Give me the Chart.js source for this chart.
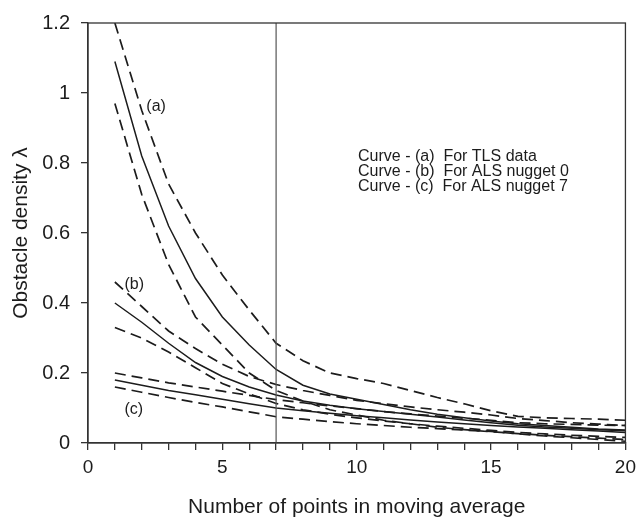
<!DOCTYPE html>
<html lang="en">
<head>
    <meta charset="UTF-8">
    <title>Obstacle density vs moving average</title>
    <style>
        html, body { margin: 0; padding: 0; background: #fff; }
        #chart-box { width: 642px; height: 517px; }
    </style>
</head>
<body>
    <div id="chart-box">
        <canvas id="density-chart"></canvas>
    </div>

    <script src="https://cdn.jsdelivr.net/npm/chart.js"></script>
    <script>
        // number of points in moving average
        const points = [1, 2, 3, 4, 5, 6, 7, 8, 9, 10, 11, 12, 13, 14, 15, 16, 17, 18, 19, 20];

        // curve (a) - TLS data
        const tlsMean  = [1.09, 0.82, 0.62, 0.47, 0.36, 0.28, 0.21, 0.165, 0.14, 0.125, 0.11, 0.095, 0.082, 0.072, 0.063, 0.055, 0.05, 0.045, 0.04, 0.037];
        const tlsUpper = [1.2, 0.95, 0.74, 0.6, 0.48, 0.38, 0.285, 0.235, 0.2, 0.184, 0.17, 0.15, 0.13, 0.112, 0.092, 0.076, 0.072, 0.07, 0.068, 0.065];
        const tlsLower = [0.97, 0.71, 0.51, 0.36, 0.28, 0.2, 0.15, 0.12, 0.095, 0.08, 0.065, 0.055, 0.045, 0.038, 0.032, 0.027, 0.022, 0.018, 0.014, 0.01];

        // curve (b) - ALS nugget 0
        const als0Mean  = [0.4, 0.345, 0.285, 0.23, 0.19, 0.16, 0.137, 0.12, 0.108, 0.098, 0.09, 0.082, 0.074, 0.066, 0.058, 0.051, 0.046, 0.042, 0.038, 0.035];
        const als0Upper = [0.46, 0.39, 0.32, 0.27, 0.225, 0.19, 0.167, 0.15, 0.136, 0.122, 0.112, 0.103, 0.095, 0.088, 0.08, 0.07, 0.064, 0.058, 0.054, 0.05];
        const als0Lower = [0.33, 0.3, 0.26, 0.215, 0.17, 0.14, 0.113, 0.095, 0.082, 0.072, 0.063, 0.055, 0.048, 0.042, 0.036, 0.03, 0.026, 0.022, 0.019, 0.016];

        // curve (c) - ALS nugget 7
        const als7Mean  = [0.18, 0.165, 0.15, 0.138, 0.125, 0.112, 0.1, 0.092, 0.085, 0.078, 0.072, 0.066, 0.06, 0.055, 0.05, 0.046, 0.042, 0.038, 0.034, 0.03];
        const als7Upper = [0.2, 0.186, 0.172, 0.16, 0.148, 0.136, 0.124, 0.115, 0.106, 0.098, 0.09, 0.083, 0.077, 0.071, 0.065, 0.058, 0.055, 0.053, 0.051, 0.05];
        const als7Lower = [0.16, 0.145, 0.13, 0.116, 0.103, 0.089, 0.075, 0.068, 0.061, 0.055, 0.05, 0.045, 0.041, 0.037, 0.033, 0.026, 0.02, 0.015, 0.01, 0.005];

        const markerX = 7;  // vertical reference line
        const xTicks = [0, 5, 10, 15, 20];
        const yTicks = [0, 0.2, 0.4, 0.6, 0.8, 1, 1.2];

        const curveLabels = [
            { text: "(a)", x: 2.17, y: 0.96 },
            { text: "(b)", x: 1.36, y: 0.452 },
            { text: "(c)", x: 1.36, y: 0.096 }
        ];
        const noteLines = [
            "Curve - (a)  For TLS data",
            "Curve - (b)  For ALS nugget 0",
            "Curve - (c)  For ALS nugget 7"
        ];

        const ink = "#1c1c1c";
        const fontFamily = "'Liberation Sans', Arial, sans-serif";
        Chart.defaults.font.family = fontFamily;
        Chart.defaults.color = ink;

        function toXY(values) {
            return values.map((v, i) => ({ x: points[i], y: v }));
        }

        function solid(values) {
            return { data: toXY(values), borderColor: ink, borderWidth: 1.5, pointRadius: 0, tension: 0, fill: false };
        }

        function dashed(values) {
            return { data: toXY(values), borderColor: ink, borderWidth: 1.7, borderDash: [11, 6], pointRadius: 0, tension: 0, fill: false };
        }

        // frame + text annotations
        const framePlugin = {
            id: "frame",
            afterDraw(chart) {
                const { ctx, chartArea, scales } = chart;
                ctx.save();
                ctx.strokeStyle = "#333";
                ctx.lineWidth = 1.3;
                ctx.strokeRect(chartArea.left, chartArea.top, chartArea.right - chartArea.left, chartArea.bottom - chartArea.top);

                ctx.fillStyle = ink;
                ctx.font = "16px " + fontFamily;
                ctx.textBaseline = "middle";
                ctx.textAlign = "left";
                curveLabels.forEach(l => {
                    ctx.fillText(l.text, scales.x.getPixelForValue(l.x), scales.y.getPixelForValue(l.y));
                });

                const noteX = scales.x.getPixelForValue(10.05);
                const noteY = scales.y.getPixelForValue(0.817);
                noteLines.forEach((line, i) => {
                    ctx.fillText(line, noteX, noteY + i * 15);
                });
                ctx.restore();
            }
        };

        const ctx = document.getElementById("density-chart").getContext("2d");
        new Chart(ctx, {
            type: "line",
            data: {
                datasets: [
                    {
                        data: [{ x: markerX, y: 0 }, { x: markerX, y: 1.2 }],
                        borderColor: "#555", borderWidth: 1.2, pointRadius: 0, fill: false
                    },
                    dashed(tlsUpper), solid(tlsMean), dashed(tlsLower),
                    dashed(als0Upper), solid(als0Mean), dashed(als0Lower),
                    dashed(als7Upper), solid(als7Mean), dashed(als7Lower)
                ]
            },
            options: {
                responsive: true,
                maintainAspectRatio: false,
                animation: false,
                layout: { padding: { left: 0, right: 10, top: 20, bottom: 0 } },
                plugins: {
                    legend: { display: false },
                    tooltip: { enabled: false }
                },
                scales: {
                    x: {
                        type: "linear",
                        min: 0,
                        max: 20,
                        afterFit(scale) { scale.height = 74; },
                        grid: { drawOnChartArea: false, drawTicks: true, tickLength: 7, color: "#333", lineWidth: 1.3 },
                        border: { display: true, color: "#333", width: 1.3 },
                        ticks: {
                            stepSize: 1,
                            padding: 6,
                            maxRotation: 0,
                            autoSkip: false,
                            font: { size: 19 },
                            callback: v => xTicks.includes(v) ? String(v) : ""
                        },
                        title: {
                            display: true,
                            text: "Number of points in moving average",
                            font: { size: 21 },
                            padding: { top: 0, bottom: -3 }
                        }
                    },
                    y: {
                        type: "linear",
                        min: 0,
                        max: 1.2,
                        afterFit(scale) { scale.width = 88; },
                        afterBuildTicks(scale) { scale.ticks = yTicks.map(v => ({ value: v })); },
                        grid: { drawOnChartArea: false, drawTicks: true, tickLength: 7, color: "#333", lineWidth: 1.3 },
                        border: { display: true, color: "#333", width: 1.3 },
                        ticks: {
                            padding: 11,
                            font: { size: 20 },
                            callback: v => String(Math.round(v * 10) / 10)
                        },
                        title: {
                            display: true,
                            text: "Obstacle density λ",
                            font: { size: 21 },
                            padding: { top: 9, bottom: 0 }
                        }
                    }
                }
            },
            plugins: [framePlugin]
        });
    </script>
</body>
</html>
